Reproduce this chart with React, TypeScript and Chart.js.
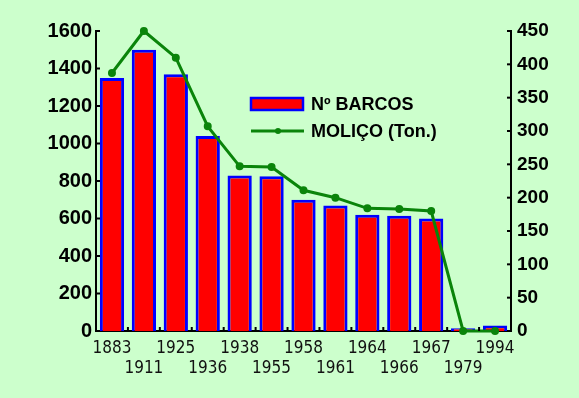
import React, { useEffect, useRef } from 'react';
import { Chart, registerables } from 'chart.js';

Chart.register(...registerables);

const years = ['1883', '1911', '1925', '1936', '1938', '1955', '1958', '1961', '1964', '1966', '1967', '1979', '1994'];
const barcos = [1350, 1500, 1370, 1040, 830, 825, 700, 670, 620, 615, 600, 15, 30];
const molico = [387, 450, 410, 307, 247, 246, 211, 200, 184, 183, 180, 0, 0];
const barLabel = 'Nº BARCOS';
const lineLabel = 'MOLIÇO (Ton.)';

const BG = '#ccffcc';
const RED = '#ff0000';
const BLUE = '#0000ff';
const GREEN = '#0a840a';
const AXIS_FONT = '"Liberation Sans", Arial, sans-serif';
const X_FONT = '"Liberation Sans Narrow", "DejaVu Sans Condensed", "Liberation Sans", sans-serif';

const innerTicks = {
  id: 'innerTicks',
  afterDraw(chart: any) {
    const { ctx, chartArea: a, scales } = chart;
    ctx.save();
    ctx.strokeStyle = '#000';
    ctx.lineWidth = 2;
    const seg = (x1: number, y1: number, x2: number, y2: number) => {
      ctx.beginPath();
      ctx.moveTo(x1, y1);
      ctx.lineTo(x2, y2);
      ctx.stroke();
    };
    scales.y.ticks.forEach((_: any, i: number) => {
      const y = scales.y.getPixelForTick(i);
      seg(a.left, y, a.left + 4, y);
    });
    scales.y1.ticks.forEach((_: any, i: number) => {
      const y = scales.y1.getPixelForTick(i);
      seg(a.right - 4, y, a.right, y);
    });
    for (let k = 1; k < years.length; k++) {
      const x = scales.x.getPixelForValue(k - 0.5);
      seg(x, a.bottom - 4, x, a.bottom);
    }
    ctx.restore();
  },
};

const customLegend = {
  id: 'customLegend',
  afterDraw(chart: any) {
    const { ctx, chartArea: a } = chart;
    const x0 = a.left + 155;
    const y0 = a.top + 73;
    ctx.save();
    ctx.fillStyle = RED;
    ctx.fillRect(x0, y0 - 6, 52, 12);
    ctx.strokeStyle = BLUE;
    ctx.lineWidth = 2.5;
    ctx.strokeRect(x0, y0 - 6, 52, 12);
    ctx.fillStyle = '#000';
    ctx.font = `bold 18px ${AXIS_FONT}`;
    ctx.textBaseline = 'middle';
    ctx.textAlign = 'left';
    ctx.fillText(barLabel, x0 + 60, y0 + 1);
    const y1 = y0 + 27;
    ctx.strokeStyle = GREEN;
    ctx.lineWidth = 3;
    ctx.beginPath();
    ctx.moveTo(x0, y1);
    ctx.lineTo(x0 + 53, y1);
    ctx.stroke();
    ctx.fillStyle = GREEN;
    ctx.beginPath();
    ctx.arc(x0 + 27, y1, 3, 0, Math.PI * 2);
    ctx.fill();
    ctx.fillStyle = '#000';
    ctx.fillText(lineLabel, x0 + 60, y1 + 1);
    ctx.restore();
  },
};

export default function App() {
  const ref = useRef<HTMLCanvasElement>(null);

  useEffect(() => {
    document.body.style.margin = '0';
    document.body.style.background = BG;
    const chart = new Chart(ref.current as HTMLCanvasElement, {
      type: 'bar',
      data: {
        labels: years,
        datasets: [
          {
            type: 'line',
            label: lineLabel,
            data: molico,
            yAxisID: 'y1',
            borderColor: GREEN,
            backgroundColor: GREEN,
            borderWidth: 3,
            pointRadius: 2.5,
            pointBackgroundColor: GREEN,
            pointBorderColor: GREEN,
            tension: 0,
            clip: false,
            order: 0,
          } as any,
          {
            type: 'bar',
            label: barLabel,
            data: barcos,
            yAxisID: 'y',
            backgroundColor: RED,
            borderColor: BLUE,
            borderWidth: 3,
            barPercentage: 0.76,
            categoryPercentage: 1,
            order: 1,
          } as any,
        ],
      },
      options: {
        responsive: false,
        animation: false,
        layout: { padding: { top: 31, left: 0, right: 0, bottom: 0 } },
        plugins: {
          legend: { display: false },
          tooltip: { enabled: false },
        },
        scales: {
          x: {
            offset: true,
            grid: { display: false, drawTicks: false },
            border: { display: true, color: '#000', width: 2 },
            ticks: {
              autoSkip: false,
              maxRotation: 0,
              minRotation: 0,
              padding: 7,
              color: '#111',
              font: { family: X_FONT, size: 17, lineHeight: 1.2 },
              callback: function (this: any, v: any, i: number) {
                const l = this.getLabelForValue(v);
                return i % 2 ? ['', l] : l;
              },
            },
            afterFit: (s: any) => {
              s.height = 67;
            },
          },
          y: {
            position: 'left',
            min: 0,
            max: 1600,
            grid: { display: false, drawTicks: false },
            border: { display: true, color: '#000', width: 2 },
            ticks: {
              stepSize: 200,
              padding: 4,
              color: '#000',
              font: { family: AXIS_FONT, size: 20, weight: 700 },
              callback: (v: any) => String(v),
            },
            afterFit: (s: any) => {
              s.width = 96;
            },
          },
          y1: {
            position: 'right',
            min: 0,
            max: 450,
            grid: { display: false, drawTicks: false },
            border: { display: true, color: '#000', width: 2 },
            ticks: {
              stepSize: 50,
              padding: 6,
              color: '#000',
              font: { family: AXIS_FONT, size: 19, weight: 700 },
              callback: (v: any) => String(v),
            },
            afterFit: (s: any) => {
              s.width = 68;
            },
          },
        },
      } as any,
      plugins: [innerTicks, customLegend],
    });
    return () => chart.destroy();
  }, []);

  return (
    <div style={{ width: 579, height: 398, background: BG }}>
      <canvas ref={ref} width={579} height={398} style={{ display: 'block', width: 579, height: 398 }} />
    </div>
  );
}
